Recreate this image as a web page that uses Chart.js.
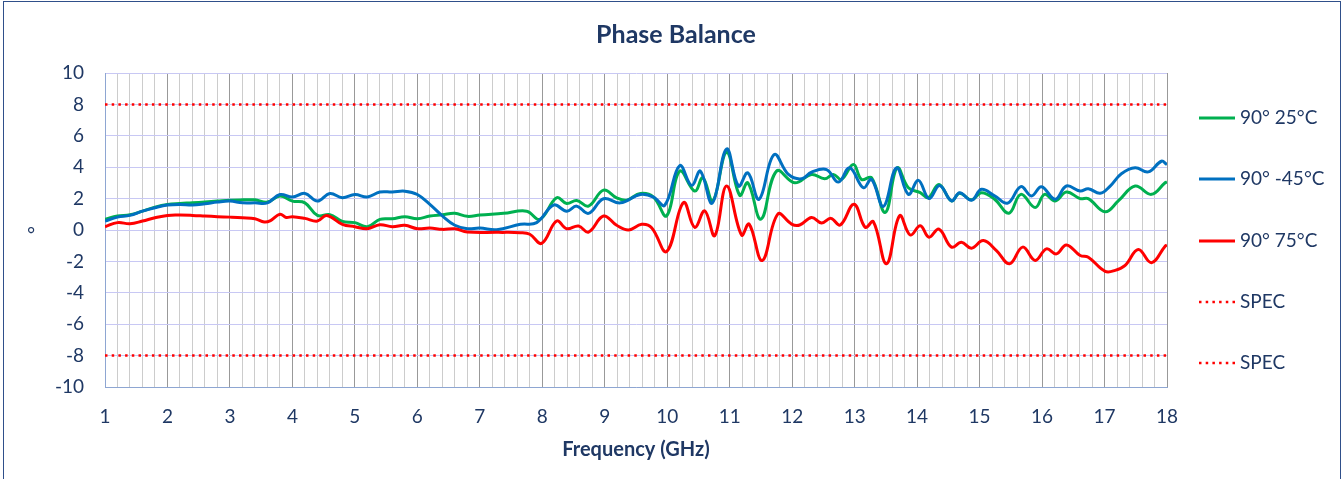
<!DOCTYPE html>
<html>
<head>
<meta charset="utf-8">
<script src="https://cdn.jsdelivr.net/npm/chart.js@4.4.1/dist/chart.umd.min.js"></script>
<style>
    html, body { margin: 0; padding: 0; background: #fff; overflow: hidden; }
    .wrap { position: relative; width: 1344px; height: 479px; }
    .frame { position: absolute; left: 3px; top: 1px; width: 1336px; height: 520px; border: 1px solid #2f4f8a; pointer-events: none; }
    canvas { position: absolute; left: 0; top: 0; }
</style>
</head>
<body>
<div class="wrap">
    <canvas id="chart" width="1344" height="479"></canvas>
    <div class="frame"></div>
</div>
<script>
// values (GHz / degrees)
const freq25 = [1.0,1.2,1.4,1.6,1.8,2.0,2.2,2.4,2.6,2.8,3.0,3.2,3.4,3.6,3.8,4.0,4.2,4.4,4.6,4.8,5.0,5.2,5.4,5.6,5.8,6.0,6.2,6.4,6.6,6.8,7.0,
    7.38,7.75,7.96,8.23,8.39,8.55,8.74,8.98,9.19,9.35,9.57,9.78,9.99,10.2,10.44,10.57,10.73,10.95,11.16,11.29,11.5,11.75,
    12.04,12.31,12.52,12.66,12.79,12.98,13.11,13.27,13.49,13.68,13.86,14.05,14.18,14.35,14.55,14.68,14.87,15.03,15.24,15.47,15.66,15.89,
    16.04,16.21,16.39,16.61,16.74,17.01,17.22,17.49,17.75,17.97,18.0];
const phase25 = [0.68,0.89,0.97,1.2,1.46,1.63,1.69,1.73,1.78,1.84,1.9,1.92,1.92,1.78,2.16,1.84,1.73,0.93,0.97,0.55,0.47,0.21,0.68,0.72,0.85,0.72,0.89,0.97,1.06,0.87,0.95,
    1.06,1.2,0.68,2.05,1.69,1.88,1.52,2.54,2.05,1.9,2.33,2.1,0.9,3.75,2.48,3.33,1.85,4.95,2.21,3.01,0.69,3.75,
    3.01,3.54,3.26,3.54,3.22,4.17,3.22,3.33,1.12,3.96,2.69,2.38,2.06,2.9,1.85,2.34,1.92,2.38,1.96,1.07,2.27,1.43,
    2.27,1.85,2.42,2.0,2.0,1.16,1.85,2.8,2.27,3.01,3.05];

const freq45 = [1.0,1.2,1.4,1.6,1.8,2.0,2.2,2.4,2.6,2.8,3.0,3.2,3.4,3.6,3.8,4.0,4.2,4.4,4.6,4.8,5.0,5.2,5.4,5.6,5.8,6.0,6.2,6.4,6.6,6.8,7.0,
    7.27,7.65,7.91,8.18,8.39,8.55,8.74,8.98,9.25,9.57,9.78,9.96,10.2,10.39,10.53,10.72,10.95,11.14,11.29,11.47,11.71,11.94,
    12.15,12.31,12.55,12.74,12.92,13.14,13.27,13.46,13.67,13.86,14.02,14.19,14.36,14.55,14.68,14.87,15.03,15.24,15.45,15.66,15.83,15.99,
    16.21,16.39,16.61,16.74,16.93,17.09,17.27,17.49,17.7,17.91,18.0];
const phase45 = [0.57,0.82,0.93,1.2,1.42,1.59,1.63,1.59,1.67,1.78,1.84,1.73,1.73,1.73,2.26,2.1,2.33,1.84,2.33,2.05,2.26,2.1,2.42,2.42,2.47,2.26,1.63,0.9,0.3,0.08,0.12,
    0.02,0.36,0.47,1.59,1.2,1.52,1.06,1.99,1.73,2.26,2.1,1.58,4.1,2.84,3.75,1.71,5.16,2.8,3.64,1.96,4.8,3.54,
    3.26,3.68,3.85,3.05,3.96,2.69,3.22,1.5,3.96,2.27,3.16,2.0,2.84,1.85,2.38,1.89,2.59,2.17,1.71,2.76,2.17,2.76,
    1.96,2.8,2.48,2.63,2.34,2.8,3.58,3.96,3.7,4.38,4.17];

const freq75 = [1.0,1.2,1.4,1.6,1.8,2.0,2.2,2.4,2.6,2.8,3.0,3.2,3.4,3.55,3.65,3.8,3.9,4.0,4.2,4.4,4.55,4.8,5.0,5.2,5.4,5.6,5.8,6.0,6.2,6.4,6.6,6.8,
    7.3,7.65,7.8,7.99,8.23,8.39,8.58,8.74,8.98,9.19,9.38,9.59,9.75,9.99,10.26,10.44,10.6,10.76,10.95,11.19,11.31,11.52,11.77,11.99,
    12.12,12.31,12.47,12.62,12.77,12.99,13.17,13.3,13.51,13.72,13.89,14.05,14.19,14.35,14.55,14.71,14.87,15.06,15.27,15.48,15.69,15.89,
    16.07,16.23,16.39,16.61,16.74,17.01,17.17,17.33,17.54,17.75,17.97,18.0];
const phase75 = [0.21,0.47,0.40,0.57,0.78,0.93,0.95,0.93,0.89,0.85,0.82,0.78,0.72,0.51,0.6,1.0,0.8,0.85,0.74,0.57,0.93,0.36,0.21,0.08,0.34,0.21,0.3,0.08,0.13,0.04,0.08,-0.13,
    -0.15,-0.17,-0.27,-0.85,0.57,0.08,0.25,-0.13,0.89,0.3,0.0,0.36,0.15,-1.37,1.75,0.17,1.22,-0.36,2.8,-0.32,0.38,-1.94,1.01,0.38,
    0.32,0.8,0.44,0.74,0.32,1.64,0.17,0.53,-2.15,0.91,-0.32,0.27,-0.46,0.06,-1.09,-0.78,-1.16,-0.67,-1.31,-2.15,-1.09,-1.94,
    -1.2,-1.52,-0.95,-1.62,-1.73,-2.63,-2.57,-2.25,-1.24,-2.08,-1.03,-0.95];

const specFreq   = [1, 18];
const specLevels = [8, -8];

const seriesLabels = ['90° 25°C', '90° -45°C', '90° 75°C', 'SPEC', 'SPEC'];
const yTicks = [-10, -8, -6, -4, -2, 0, 2, 4, 6, 8, 10];

const TEXT  = '#1f3864';
const FONT  = 'Lato';
const GREEN = '#00b050';
const BLUE  = '#0070c0';
const RED   = '#ff0000';

const toPoints = ( xs, ys ) => xs.map( ( x, i ) => ( { x, y: ys[ i ] } ) );
const isWhole  = ( v ) => Math.abs( v - Math.round( v ) ) < 1e-6;

function lineSet( label, xs, ys, colour, order ) {
    return { label, data: toPoints( xs, ys ), borderColor: colour, backgroundColor: colour,
        borderWidth: 3, pointRadius: 0, tension: 0.4, order };
}

function specSet( label, level ) {
    return { label, data: specFreq.map( ( x ) => ( { x, y: level } ) ), borderColor: RED,
        borderWidth: 2.5, borderDash: [ 2.5, 4.2 ], borderCapStyle: 'butt', pointRadius: 0, order: 5 };
}

// legend on the right, drawn by hand so the spacing matches
const sideLegend = {
    id: 'sideLegend',
    afterDraw( chart ) {
        const { ctx } = chart;
        const rows = [ 118, 179, 241, 302, 363 ];
        ctx.save();
        ctx.font = `19px ${ FONT }`;
        ctx.textBaseline = 'middle';
        ctx.fillStyle = TEXT;
        chart.data.datasets.forEach( ( ds, i ) => {
            const y = rows[ i ];
            ctx.beginPath();
            ctx.strokeStyle = ds.borderColor;
            ctx.lineWidth = ds.borderWidth;
            ctx.setLineDash( ds.borderDash || [] );
            ctx.moveTo( 1199, y );
            ctx.lineTo( 1235, y );
            ctx.stroke();
            ctx.setLineDash( [] );
            ctx.fillText( ds.label, 1240, y );
        } );
        ctx.restore();
    },
};

new Chart( document.getElementById( 'chart' ), {
    type: 'line',
    data: {
        datasets: [
            lineSet( seriesLabels[ 0 ], freq25, phase25, GREEN, 4 ),
            lineSet( seriesLabels[ 1 ], freq45, phase45, BLUE, 3 ),
            lineSet( seriesLabels[ 2 ], freq75, phase75, RED, 2 ),
            specSet( seriesLabels[ 3 ], specLevels[ 0 ] ),
            specSet( seriesLabels[ 4 ], specLevels[ 1 ] ),
        ],
    },
    options: {
        responsive: false,
        animation: false,
        devicePixelRatio: 1,
        layout: { padding: { left: 8, right: 0, top: 0, bottom: 0 } },
        plugins: {
            legend: { display: false },
            tooltip: { enabled: false },
            title: {
                display: true,
                text: 'Phase Balance',
                color: TEXT,
                font: { family: FONT, size: 25, weight: 'bold', lineHeight: 1.2 },
                padding: { top: 20, bottom: 23 },
            },
        },
        scales: {
            x: {
                type: 'linear',
                min: 1,
                max: 18,
                afterFit: ( s ) => { s.height = 92; },
                grid: {
                    drawTicks: false,
                    color: ( c ) => ( c.tick && isWhole( c.tick.value ) ? '#999999' : '#cccccc' ),
                    lineWidth: 1,
                },
                border: { color: '#8ea6d2', width: 1 },
                ticks: {
                    stepSize: 0.2,
                    autoSkip: false,
                    maxRotation: 0,
                    padding: 18,
                    color: TEXT,
                    font: { family: FONT, size: 19 },
                    callback: ( v ) => ( isWhole( v ) ? String( Math.round( v ) ) : '' ),
                },
                title: {
                    display: true,
                    text: 'Frequency (GHz)',
                    color: TEXT,
                    font: { family: FONT, size: 20, weight: 'bold', lineHeight: 1.2 },
                    padding: { top: 0, bottom: 17 },
                },
            },
            y: {
                min: yTicks[ 0 ],
                max: yTicks[ yTicks.length - 1 ],
                afterFit: ( s ) => { s.width = 97; },
                afterBuildTicks: ( s ) => { s.ticks = yTicks.map( ( value ) => ( { value } ) ); },
                grid: { drawTicks: false, color: '#c8c8f4', lineWidth: 1 },
                border: { color: '#8ea6d2', width: 1 },
                ticks: {
                    padding: 21,
                    color: TEXT,
                    font: { family: FONT, size: 19 },
                },
                title: {
                    display: true,
                    text: '°',
                    color: TEXT,
                    font: { family: FONT, size: 19, lineHeight: 1.2 },
                    padding: { top: 16, bottom: 0 },
                },
            },
            // empty right-hand band that holds the legend, so the title centres on the whole canvas
            legendBand: {
                position: 'right',
                min: 0,
                max: 1,
                afterFit: ( s ) => { s.width = 1344 - 1167; },
                grid: { display: false, drawTicks: false },
                border: { display: false },
                ticks: { display: false },
            },
        },
    },
    plugins: [ sideLegend ],
} );
</script>
</body>
</html>
